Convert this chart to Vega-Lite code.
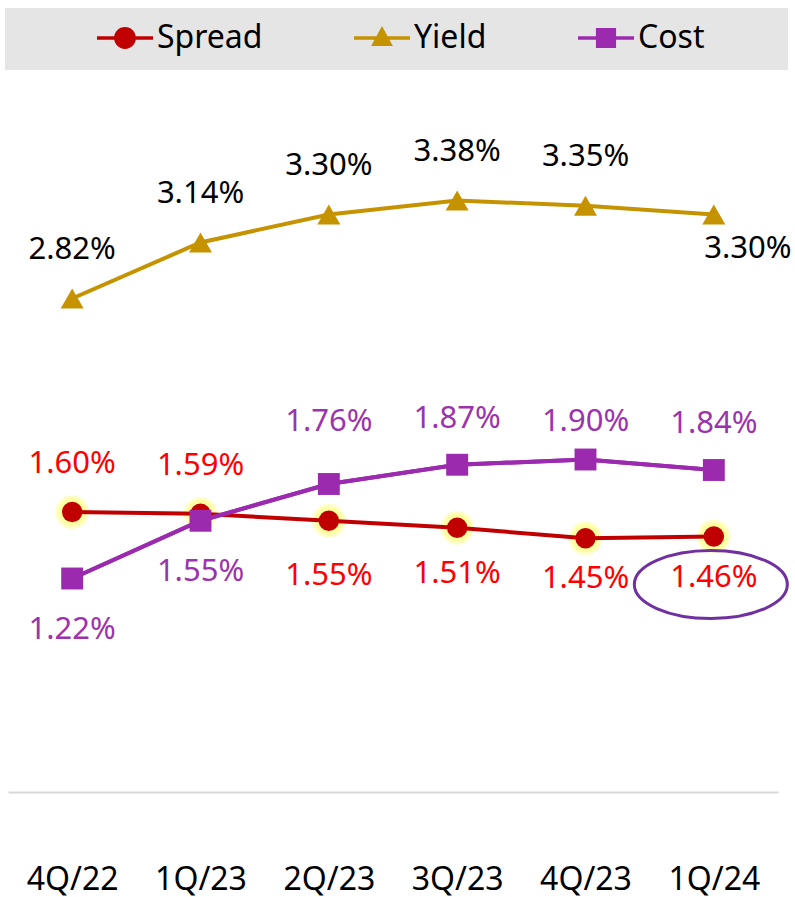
{
  "$schema": "https://vega.github.io/schema/vega-lite/v6.json",
  "width": 770,
  "height": 700,
  "autosize": {"type": "none"},
  "padding": {"left": 8, "top": 92, "right": 17, "bottom": 105},
  "background": "white",
  "config": {"view": {"stroke": null}, "font": "Noto Sans"},
  "data": {
    "values": [
      {"q": "4Q/22", "series": "Spread", "v": 0.0160},
      {"q": "1Q/23", "series": "Spread", "v": 0.0159},
      {"q": "2Q/23", "series": "Spread", "v": 0.0155},
      {"q": "3Q/23", "series": "Spread", "v": 0.0151},
      {"q": "4Q/23", "series": "Spread", "v": 0.0145},
      {"q": "1Q/24", "series": "Spread", "v": 0.0146},
      {"q": "4Q/22", "series": "Yield", "v": 0.0282},
      {"q": "1Q/23", "series": "Yield", "v": 0.0314},
      {"q": "2Q/23", "series": "Yield", "v": 0.0330},
      {"q": "3Q/23", "series": "Yield", "v": 0.0338},
      {"q": "4Q/23", "series": "Yield", "v": 0.0335},
      {"q": "1Q/24", "series": "Yield", "v": 0.0330},
      {"q": "4Q/22", "series": "Cost", "v": 0.0122},
      {"q": "1Q/23", "series": "Cost", "v": 0.0155},
      {"q": "2Q/23", "series": "Cost", "v": 0.0176},
      {"q": "3Q/23", "series": "Cost", "v": 0.0187},
      {"q": "4Q/23", "series": "Cost", "v": 0.0190},
      {"q": "1Q/24", "series": "Cost", "v": 0.0184}
    ]
  },
  "encoding": {
    "x": {
      "field": "q",
      "type": "ordinal",
      "sort": ["4Q/22", "1Q/23", "2Q/23", "3Q/23", "4Q/23", "1Q/24"],
      "scale": {"type": "point", "padding": 0.5},
      "axis": {
        "title": null,
        "labelAngle": 0,
        "domainColor": "#d9d9d9",
        "domainWidth": 2,
        "ticks": false,
        "tickSize": 0,
        "grid": false,
        "labelFontSize": 32,
        "labelPadding": 72,
        "labelColor": "#000000"
      }
    },
    "y": {
      "field": "v",
      "type": "quantitative",
      "scale": {"domain": [0, 0.04]},
      "axis": null
    }
  },
  "layer": [
    {
      "transform": [{"filter": "datum.series == 'Spread'"}],
      "mark": {"type": "point", "shape": "circle", "filled": true, "size": 1150, "fill": "#ffff55", "opacity": 0.3, "strokeWidth": 0}
    },
    {
      "transform": [{"filter": "datum.series == 'Spread'"}],
      "mark": {"type": "point", "shape": "circle", "filled": true, "size": 780, "fill": "#ffff80", "opacity": 0.6, "strokeWidth": 0}
    },
    {
      "mark": {"type": "line", "strokeWidth": 4},
      "encoding": {
        "color": {
          "field": "series",
          "type": "nominal",
          "scale": {"domain": ["Spread", "Yield", "Cost"], "range": ["#c00000", "#c69300", "#9c2aae"]},
          "legend": {
            "orient": "none",
            "legendX": -3,
            "legendY": -84,
            "direction": "horizontal",
            "columns": 3,
            "title": ".",
            "titleColor": "transparent",
            "titleOrient": "right",
            "titleBaseline": "top",
            "titlePadding": 71,
            "titleFontSize": 37,
            "fillColor": "#e5e5e5",
            "padding": 2,
            "labelFontSize": 32,
            "labelColor": "#000000",
            "labelOffset": 4,
            "labelLimit": 400,
            "symbolOffset": 90,
            "columnPadding": 1,
            "symbolSize": 3136,
            "encode": {
              "symbols": {
                "update": {
                  "shape": {"signal": "datum.value == 'Spread' ? 'M-1,-0.065H1V0.065H-1Z M-0.39,0A0.39,0.39 0 1,1 0.39,0A0.39,0.39 0 1,1 -0.39,0Z' : datum.value == 'Yield' ? 'M-1,-0.065H1V0.065H-1Z M0,-0.43L0.39,0.29H-0.39Z' : 'M-1,-0.065H1V0.065H-1Z M-0.36,-0.36H0.36V0.36H-0.36Z'"},
                  "fill": {"signal": "scale('color', datum.value)"},
                  "stroke": {"value": "transparent"},
                  "strokeWidth": {"value": 0},
                  "opacity": {"value": 1},
                  "size": {"value": 3136}
                }
              }
            }
          }
        }
      }
    },
    {
      "transform": [{"filter": "datum.series == 'Spread'"}],
      "mark": {"type": "point", "shape": "circle", "filled": true, "size": 415, "fill": "#c00000", "opacity": 1, "strokeWidth": 0}
    },
    {
      "transform": [{"filter": "datum.series == 'Cost'"}],
      "mark": {"type": "line", "strokeWidth": 4, "color": "#9c2aae"}
    },
    {
      "transform": [{"filter": "datum.series == 'Cost'"}],
      "mark": {"type": "point", "shape": "square", "filled": true, "size": 480, "fill": "#9c2aae", "opacity": 1, "strokeWidth": 0}
    },
    {
      "transform": [{"filter": "datum.series == 'Yield'"}],
      "mark": {"type": "point", "shape": "triangle-up", "filled": true, "size": 530, "fill": "#c69300", "opacity": 1, "strokeWidth": 0}
    },
    {
      "transform": [{"filter": "datum.series == 'Yield' && datum.q != '1Q/24'"}],
      "mark": {"type": "text", "fontSize": 31, "dy": -49, "fill": "#000000", "baseline": "middle"},
      "encoding": {"text": {"field": "v", "format": ".2%"}}
    },
    {
      "transform": [{"filter": "datum.series == 'Yield' && datum.q == '1Q/24'"}],
      "mark": {"type": "text", "fontSize": 31, "dy": 34, "dx": 34, "fill": "#000000", "baseline": "middle"},
      "encoding": {"text": {"field": "v", "format": ".2%"}}
    },
    {
      "transform": [{"filter": "datum.series == 'Spread' && (datum.q == '4Q/22' || datum.q == '1Q/23')"}],
      "mark": {"type": "text", "fontSize": 31, "dy": -48, "fill": "#ff0000", "baseline": "middle"},
      "encoding": {"text": {"field": "v", "format": ".2%"}}
    },
    {
      "transform": [{"filter": "datum.series == 'Spread' && datum.q == '2Q/23'"}],
      "mark": {"type": "text", "fontSize": 31, "dy": 55, "fill": "#ff0000", "baseline": "middle"},
      "encoding": {"text": {"field": "v", "format": ".2%"}}
    },
    {
      "transform": [{"filter": "datum.series == 'Spread' && datum.q == '3Q/23'"}],
      "mark": {"type": "text", "fontSize": 31, "dy": 46, "fill": "#ff0000", "baseline": "middle"},
      "encoding": {"text": {"field": "v", "format": ".2%"}}
    },
    {
      "transform": [{"filter": "datum.series == 'Spread' && (datum.q == '4Q/23' || datum.q == '1Q/24')"}],
      "mark": {"type": "text", "fontSize": 31, "dy": 41, "fill": "#ff0000", "baseline": "middle"},
      "encoding": {"text": {"field": "v", "format": ".2%"}}
    },
    {
      "transform": [{"filter": "datum.series == 'Cost' && (datum.q == '4Q/22' || datum.q == '1Q/23')"}],
      "mark": {"type": "text", "fontSize": 31, "dy": 51, "fill": "#9c33ae", "baseline": "middle"},
      "encoding": {"text": {"field": "v", "format": ".2%"}}
    },
    {
      "transform": [{"filter": "datum.series == 'Cost' && datum.q == '2Q/23'"}],
      "mark": {"type": "text", "fontSize": 31, "dy": -62, "fill": "#9c33ae", "baseline": "middle"},
      "encoding": {"text": {"field": "v", "format": ".2%"}}
    },
    {
      "transform": [{"filter": "datum.series == 'Cost' && (datum.q == '3Q/23' || datum.q == '1Q/24')"}],
      "mark": {"type": "text", "fontSize": 31, "dy": -46, "fill": "#9c33ae", "baseline": "middle"},
      "encoding": {"text": {"field": "v", "format": ".2%"}}
    },
    {
      "transform": [{"filter": "datum.series == 'Cost' && datum.q == '4Q/23'"}],
      "mark": {"type": "text", "fontSize": 31, "dy": -38, "fill": "#9c33ae", "baseline": "middle"},
      "encoding": {"text": {"field": "v", "format": ".2%"}}
    },
    {
      "transform": [{"filter": "datum.series == 'Spread' && datum.q == '1Q/24'"}],
      "mark": {"type": "point", "shape": "M-1,0A1,0.444 0 1,1 1,0A1,0.444 0 1,1 -1,0Z", "size": 23409, "filled": false, "fill": null, "stroke": "#7030a0", "strokeWidth": 3, "opacity": 1, "yOffset": 48, "xOffset": -3}
    }
  ]
}
